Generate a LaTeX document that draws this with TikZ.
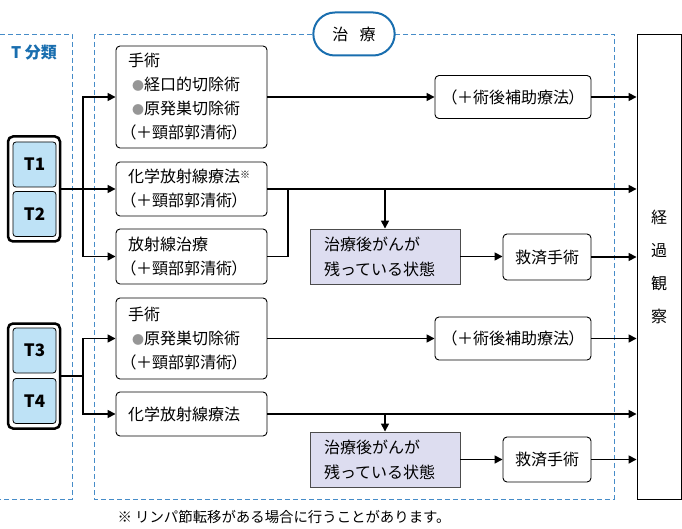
\documentclass[tikz,border=0pt]{standalone}
\usepackage{fontspec}
\setmainfont{Noto Sans CJK JP}
\newfontfamily\paltfont[CharacterWidth=AlternateProportional]{Noto Sans CJK JP}
\usetikzlibrary{arrows.meta, shapes.misc}

\definecolor{tblue}{RGB}{190,226,246}
\definecolor{dashblue}{RGB}{70,140,200}
\definecolor{labblue}{RGB}{25,110,175}
\definecolor{resfill}{RGB}{221,221,240}
\definecolor{dotgray}{RGB}{150,150,150}

\newcommand{\gdot}{\hspace{4pt}{\color{dotgray}\fontsize{12}{12}\selectfont ●}}
\newcommand{\lpar}{{\paltfont （}}
\newcommand{\rpar}{{\paltfont ）}}

\begin{document}
\begin{tikzpicture}[x=1pt, y=-1pt, >={Triangle[length=8pt,width=8pt]},
    box/.style={draw, rounded corners=4pt, fill=white, line width=0.9pt,
      font=\fontsize{16}{24}\selectfont, inner xsep=12pt, inner ysep=0pt},
    lbox/.style={box, align=left, text width=127pt},
    cbox/.style={box, align=center},
    resbox/.style={draw=black!70, fill=resfill, line width=0.9pt,
      font=\fontsize{16}{25}\selectfont, align=left, inner xsep=14pt,
      text width=122pt, minimum height=55pt},
    tbox/.style={draw, rounded corners=3pt, fill=tblue, line width=0.8pt,
      minimum width=43pt, minimum height=45pt, font=\bfseries\fontsize{17}{17}\selectfont},
    tgroup/.style={draw, rounded corners=5pt, line width=2.5pt,
      minimum width=52pt, minimum height=105pt},
    dashbox/.style={dashblue, line width=0.8pt, dash pattern=on 5pt off 3pt},
    flow/.style={->, line width=1.6pt},
    link/.style={line width=1.6pt}]
    \useasboundingbox (0,0) rectangle (682,529);

    % dashed frames
    \draw[dashbox] (0,34) -- (72,34) -- (72,499) -- (0,499);
    \draw[dashbox] (94,34) rectangle (614,499);
    \node[text=labblue, font=\bfseries\fontsize{16}{16}\selectfont] (tlab) at (34,53) {T 分類};
    \node[draw=labblue, line width=2pt, rounded rectangle, fill=white,
      minimum width=88pt, minimum height=43pt, font=\fontsize{16}{16}\selectfont] (treat) at (354,34) {治\hspace{0.7em}療};

    % observation column
    \node[draw, line width=0.9pt, fill=white, minimum width=44pt, minimum height=465pt,
      align=center, font=\fontsize{16}{33}\selectfont] (obs) at (659,266.5) {経\\過\\観\\察};

    %--- T classes
    \node[tgroup] (t12) at (34,189) {};
    \node[tbox] (t1) at (34.5,164.5) {T1};
    \node[tbox] (t2) at (34.5,214) {T2};
    \node[tgroup] (t34) at (34,376) {};
    \node[tbox] (t3) at (34.5,350.5) {T3};
    \node[tbox] (t4) at (34.5,401) {T4};

    %--- treatment boxes for T1/T2
    \node[lbox, minimum height=102pt] (ope1) at (191.5,97)
      {手術\\\gdot 経口的切除術\\\gdot 原発巣切除術\\\lpar ＋頸部郭清術\rpar};
    \node[lbox, minimum height=54pt] (crt1) at (191.5,189)
      {化学放射線療法{\raisebox{0.5ex}{\fontsize{10}{10}\selectfont ※}}\\\lpar ＋頸部郭清術\rpar};
    \node[lbox, minimum height=55pt] (rad1) at (191.5,256.5)
      {放射線治療\\\lpar ＋頸部郭清術\rpar};
    \node[cbox, minimum width=156pt, minimum height=43pt] (adj1) at (513,97) {\lpar ＋術後補助療法\rpar};
    \node[resbox] (res1) at (385,256.5) {治療後がんが\\残っている状態};
    \node[cbox, minimum width=88pt, minimum height=46pt] (sal1) at (547,257) {救済手術};

    %--- treatment boxes for T3/T4
    \node[lbox, minimum height=81pt] (ope2) at (191.5,338.5)
      {手術\\\gdot 原発巣切除術\\\lpar ＋頸部郭清術\rpar};
    \node[lbox, minimum height=44pt] (crt2) at (191.5,414) {化学放射線療法};
    \node[cbox, minimum width=156pt, minimum height=43pt] (adj2) at (513,338.5) {\lpar ＋術後補助療法\rpar};
    \node[resbox] (res2) at (385,459.5) {治療後がんが\\残っている状態};
    \node[cbox, minimum width=88pt, minimum height=45pt] (sal2) at (547,459.5) {救済手術};

    %--- branches from the T classes
    \coordinate (s12) at (83,0);
    \coordinate (s34) at (83,0);
    \draw[flow] (t12.east) -| (s12 |- ope1.west) -- (ope1.west);
    \draw[flow] (t12.east) -- (t12.east -| crt1.west);
    \draw[flow] (t12.east) -| (s12 |- rad1.west) -- (rad1.west);
    \draw[flow] (t34.east) -| (s34 |- ope2.west) -- (ope2.west);
    \draw[flow] (t34.east) -| (s34 |- crt2.west) -- (crt2.west);

    %--- upper chain
    \draw[flow] (ope1.east) -- (ope1.east -| adj1.west);
    \draw[flow] (adj1.east) -- (adj1.east -| obs.west);
    \draw[flow] (crt1.east) -- (crt1.east -| obs.west);
    \coordinate (j1) at (288,0);
    \draw[link] (rad1.east) -| (j1 |- crt1.east);
    \draw[flow] (res1.north |- crt1.east) -- (res1.north);
    \draw[flow] (res1.east) -- (res1.east -| sal1.west);
    \draw[flow] (sal1.east) -- (sal1.east -| obs.west);

    %--- lower chain
    \draw[flow] (ope2.east) -- (ope2.east -| adj2.west);
    \draw[flow] (adj2.east) -- (adj2.east -| obs.west);
    \draw[flow] (crt2.east) -- (crt2.east -| obs.west);
    \draw[flow] (res2.north |- crt2.east) -- (res2.north);
    \draw[flow] (res2.east) -- (res2.east -| sal2.west);
    \draw[flow] (sal2.east) -- (sal2.east -| obs.west);

    % footnote
    \node[anchor=west, font=\fontsize{14.4}{15}\selectfont] (note) at (114,517)
      {※ リンパ節転移がある場合に行うことがあります。};
\end{tikzpicture}
\end{document}
